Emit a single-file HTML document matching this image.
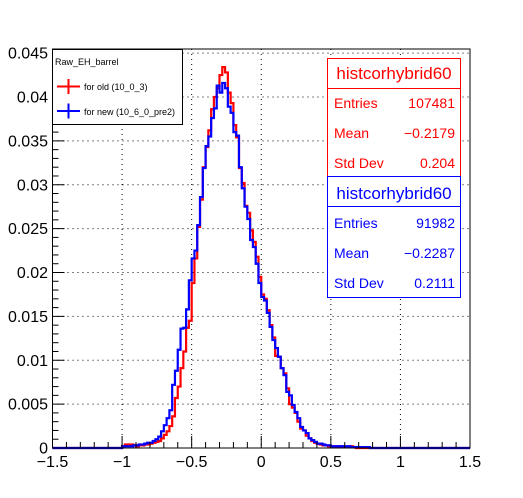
<!DOCTYPE html>
<html><head><meta charset="utf-8"><style>
body{margin:0;background:#fff}
svg{display:block;font-family:"Liberation Sans",Arial,sans-serif}
</style></head><body>
<svg id="c" width="523" height="498" viewBox="0 0 523 498"></svg>
<script>
const binEdgesStart = -1.5;
const binWidth = 0.02;
const redStart = -1.00;
const redValues = [0.0002,0.0004,0.0004,0.0004,0.0003,0.0002,0.0003,0.0003,0.0004,0.0004,
0.0005,0.0006,0.0007,0.0008,0.0011,0.0015,0.0019,0.0025,0.0036,0.0057,
0.0070,0.0091,0.0110,0.0137,0.0145,0.0188,0.0216,0.0252,0.0283,0.0320,
0.0343,0.0362,0.0386,0.0400,0.0410,0.0425,0.0434,0.0428,0.0405,0.0393,
0.0368,0.0354,0.0319,0.0302,0.0276,0.0268,0.0248,0.0235,0.0218,0.0195,
0.0175,0.0170,0.0157,0.0140,0.0126,0.0105,0.0104,0.0091,0.0085,0.0068,
0.0050,0.0046,0.0040,0.0030,0.0022,0.0020,0.0014,0.0011,0.0008,0.0006,
0.0005,0.0004,0.0003,0.0003,0.0002,0.0002,0.0002,0.0001,0.0002,0.0001,
0.0001,0.0001,0.0002,0.0001];
const blueStart = -1.00;
const blueValues = [0.0002,0.0002,0.0002,0.0002,0.0003,0.0003,0.0004,0.0004,0.0005,0.0006,
0.0006,0.0008,0.0010,0.0013,0.0019,0.0026,0.0034,0.0043,0.0072,0.0088,
0.0112,0.0136,0.0137,0.0158,0.0191,0.0216,0.0225,0.0254,0.0286,0.0319,
0.0344,0.0355,0.0376,0.0387,0.0413,0.0405,0.0416,0.0410,0.0389,0.0382,
0.0360,0.0356,0.0320,0.0296,0.0275,0.0261,0.0237,0.0229,0.0210,0.0188,
0.0172,0.0168,0.0154,0.0138,0.0123,0.0114,0.0104,0.0091,0.0083,0.0064,
0.0060,0.0049,0.0041,0.0034,0.0024,0.0020,0.0017,0.0011,0.0009,0.0007,
0.0005,0.0005,0.0004,0.0003,0.0003,0.0002,0.0002,0.0002,0.0002,0.0002,
0.0002,0.0002,0.0001,0.0001,0.0001,0.0001,0.0001,0.0001,0.0001];
const xTicks = [-1.5,-1,-0.5,0,0.5,1,1.5];
const xTickLabels = ["\u22121.5","\u22121","\u22120.5","0","0.5","1","1.5"];
const yTicks = [0,0.005,0.01,0.015,0.02,0.025,0.03,0.035,0.04,0.045];
const yTickLabels = ["0","0.005","0.01","0.015","0.02","0.025","0.03","0.035","0.04","0.045"];

const L=52.5,R=470,T=49,B=448, XMIN=-1.5,XMAX=1.5,YMAX=(448-49)/8775;
const sx=v=>L+(v-XMIN)/(XMAX-XMIN)*(R-L);
const sy=v=>B-v/YMAX*(B-T);
const svg=document.getElementById('c');
const NS='http://www.w3.org/2000/svg';
function mk(tag,attrs,parent){const e=document.createElementNS(NS,tag);for(const k in attrs)e.setAttribute(k,attrs[k]);(parent||svg).appendChild(e);return e;}

const grid=mk('g',{});


xTicks.forEach(t=>{if(t>XMIN&&t<XMAX){mk('line',{x1:sx(t),x2:sx(t),y1:T,y2:B,stroke:'#000','stroke-width':1,'stroke-dasharray':'1,4'},grid);}});
yTicks.forEach(t=>{if(t>0){mk('line',{x1:L,x2:R,y1:sy(t),y2:sy(t),stroke:'#000','stroke-width':1,'stroke-dasharray':'1,4'},grid);}});

function histPath(start,vals){
  const n=Math.round((XMAX-XMIN)/binWidth);
  const i0=Math.round((start-binEdgesStart)/binWidth);
  let d='M'+sx(XMIN)+','+sy(0);
  for(let i=0;i<n;i++){
    const j=i-i0; const v=(j>=0&&j<vals.length)?vals[j]:0;
    const x0=binEdgesStart+i*binWidth, x1=x0+binWidth;
    d+=' L'+sx(x0).toFixed(2)+','+sy(v).toFixed(2)+' L'+sx(x1).toFixed(2)+','+sy(v).toFixed(2);
  }
  return d;
}
const red=mk('path',{d:histPath(redStart,redValues),fill:'none',stroke:'#ff0000','stroke-width':2.2});


const blue=mk('path',{d:histPath(blueStart,blueValues),fill:'none',stroke:'#0000ff','stroke-width':2.2});



const frame=mk('rect',{x:L,y:T,width:R-L,height:B-T,fill:'none',stroke:'#000','stroke-width':1});



const xa=mk('g',{});


for(let k=0;k<=30;k++){const t=XMIN+k*0.1;const maj=(k%5===0);mk('line',{x1:sx(t),x2:sx(t),y1:B,y2:B-(maj?12:6),stroke:'#000','stroke-width':1},xa);}
xTicks.forEach((t,i)=>{const tx=mk('text',{x:sx(t),y:467,'text-anchor':'middle','font-size':16},xa);tx.textContent=xTickLabels[i];});
const ya=mk('g',{});


for(let k=0;k<=45;k++){const t=k*0.001;const maj=(k%5===0);mk('line',{x1:L,x2:L+(maj?12:6),y1:sy(t),y2:sy(t),stroke:'#000','stroke-width':1},ya);}
yTicks.forEach((t,i)=>{const tx=mk('text',{x:48,y:sy(t)+5.5,'text-anchor':'end','font-size':16},ya);tx.textContent=yTickLabels[i];});
</script>
<svg width="523" height="498" style="position:absolute;left:0;top:0" font-family="Liberation Sans, Arial, sans-serif">
  <g>
    <rect x="52.5" y="49.5" width="130" height="75" fill="#fff" stroke="#000" stroke-width="1"/>
    <text x="55" y="65" font-size="9">Raw_EH_barrel</text>
    <g>
      <line x1="57" x2="80" y1="86.5" y2="86.5" stroke="#f00" stroke-width="2"/>
      <line x1="68.5" x2="68.5" y1="79" y2="94" stroke="#f00" stroke-width="2"/>
      <text x="84" y="90" font-size="9">for old (10_0_3)</text>
    </g>
    <g>
      <line x1="57" x2="80" y1="111" y2="111" stroke="#00f" stroke-width="2"/>
      <line x1="68.5" x2="68.5" y1="103.5" y2="118.5" stroke="#00f" stroke-width="2"/>
      <text x="84" y="115" font-size="9">for new (10_6_0_pre2)</text>
    </g>
  </g>
  <g fill="#f00">
    <rect x="327.5" y="58.5" width="133" height="118" fill="#fff" stroke="#f00" stroke-width="1"/>
    <line x1="327.5" x2="460.5" y1="88.5" y2="88.5" stroke="#f00"/>
    <text x="394" y="79" font-size="17" text-anchor="middle">histcorhybrid60</text>
    <text x="334" y="108" font-size="14">Entries</text><text x="455" y="108" font-size="14" text-anchor="end">107481</text>
    <text x="334" y="138" font-size="14">Mean</text><text x="455" y="138" font-size="14" text-anchor="end">−0.2179</text>
    <text x="334" y="168" font-size="14">Std Dev</text><text x="455" y="168" font-size="14" text-anchor="end">0.204</text>
  </g>
  <g fill="#00f">
    <rect x="327.5" y="176.5" width="133" height="121" fill="#fff" stroke="#00f" stroke-width="1"/>
    <line x1="327.5" x2="460.5" y1="206.5" y2="206.5" stroke="#00f"/>
    <text x="394" y="199" font-size="17" text-anchor="middle">histcorhybrid60</text>
    <text x="334" y="228" font-size="14">Entries</text><text x="455" y="228" font-size="14" text-anchor="end">91982</text>
    <text x="334" y="258" font-size="14">Mean</text><text x="455" y="258" font-size="14" text-anchor="end">−0.2287</text>
    <text x="334" y="288" font-size="14">Std Dev</text><text x="455" y="288" font-size="14" text-anchor="end">0.2111</text>
  </g>
</svg>
</body></html>
